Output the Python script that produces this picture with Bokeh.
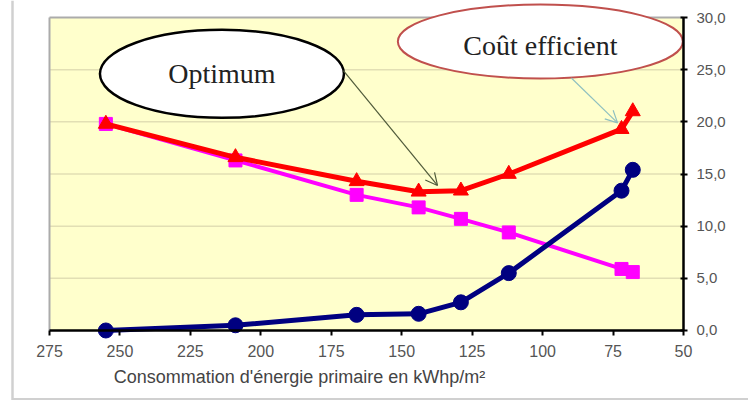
from bokeh.plotting import figure
from bokeh.models import Range1d, FixedTicker, CustomJSTickFormatter, Label, Arrow, OpenHead, BoxAnnotation
from bokeh.embed import file_html
from bokeh.resources import INLINE

# ---- data ----
energy = [255, 209, 166, 144, 129, 112, 72, 68]
cost_works = [0.0, 0.5, 1.5, 1.6, 2.7, 5.5, 13.4, 15.4]
cost_energy = [19.8, 16.3, 13.0, 11.8, 10.7, 9.4, 5.9, 5.6]
cost_total = [19.8, 16.6, 14.3, 13.3, 13.4, 15.0, 19.3, 21.0]

x_ticks = [275, 250, 225, 200, 175, 150, 125, 100, 75, 50]
y_ticks = [0, 5, 10, 15, 20, 25, 30]
grid_vals = [5, 10, 15, 20, 25]
x_label = "Consommation d'énergie primaire en kWhp/m²"
note_opt = "Optimum"
note_eff = "Coût efficient"

X_LEFT, X_RIGHT = 275, 50
Y_BOT, Y_TOP = 0, 30

p = figure(width=748, height=400, output_backend="svg", toolbar_location=None,
           x_range=Range1d(292.39, 26.93), y_range=Range1d(-6.71, 31.63),
           y_axis_location="right",
           min_border_left=0, min_border_right=0, min_border_top=0, min_border_bottom=0,
           outline_line_color=None, background_fill_color="white", border_fill_color="white")

# plot area background
p.add_layout(BoxAnnotation(left=X_RIGHT, right=X_LEFT, bottom=Y_BOT, top=Y_TOP,
                           fill_color="#FFFFCC", fill_alpha=1, line_color=None, level="image"))
p.xgrid.visible = False
p.ygrid.visible = False
p.segment(x0=[X_LEFT] * len(grid_vals), x1=[X_RIGHT] * len(grid_vals), y0=grid_vals, y1=grid_vals,
          line_color="#E2DFB4", line_width=1.5)
# gray frame lines
p.segment(x0=[X_LEFT, X_LEFT], x1=[X_RIGHT, X_LEFT], y0=[Y_TOP, Y_BOT], y1=[Y_TOP, Y_TOP],
          line_color="#ABABAB", line_width=2)
# outer picture border lines
p.segment(x0=[288.13, 288.13], x1=[288.13, 26.93], y0=[-6.71, -6.6], y1=[31.63, -6.6],
          line_color="#D0D0D0", line_width=2.5)

# series
p.line(energy, cost_energy, line_color="#FF00FF", line_width=4)
p.scatter(energy, cost_energy, marker="square", size=13, fill_color="#FF00FF", line_color="#FF00FF")
p.line(energy, cost_total, line_color="#FF0000", line_width=5)
p.scatter(energy, cost_total, marker="triangle", size=15, fill_color="#FF0000", line_color="#FF0000")
p.line(energy, cost_works, line_color="#000080", line_width=5)
p.scatter(energy, cost_works, marker="circle", size=15, fill_color="#000080", line_color="#000080")

# axes
xa = p.xaxis[0]
xa.fixed_location = 0
xa.bounds = (X_RIGHT, X_LEFT)
xa.ticker = FixedTicker(ticks=x_ticks)
xa.axis_line_color = "black"
xa.axis_line_width = 2.5
xa.major_tick_out = 5
xa.major_tick_in = 0
xa.major_tick_line_color = "black"
xa.major_tick_line_width = 2
xa.minor_tick_line_color = None
xa.major_label_standoff = 10
xa.major_label_text_font = "Liberation Sans"
xa.major_label_text_font_size = "16px"
xa.major_label_text_color = "#555555"

ya = p.yaxis[0]
ya.fixed_location = X_RIGHT
ya.bounds = (Y_BOT, Y_TOP)
ya.ticker = FixedTicker(ticks=y_ticks)
ya.formatter = CustomJSTickFormatter(code="return tick.toFixed(1).replace('.', ',');")
ya.axis_line_color = "black"
ya.axis_line_width = 2.5
ya.major_tick_out = 4
ya.major_tick_in = 3
ya.major_tick_line_color = "black"
ya.major_tick_line_width = 2
ya.minor_tick_line_color = None
ya.major_label_standoff = 9
ya.major_label_text_font = "Liberation Sans"
ya.major_label_text_font_size = "15px"
ya.major_label_text_color = "#555555"

p.add_layout(Label(x=186.3, y=-4.5, text=x_label, text_align="center", text_baseline="middle",
                   text_font="Liberation Sans", text_font_size="18px", text_color="#444444"))

# annotations
p.ellipse(x=[213.8], y=[24.6], width=[244], height=[88], width_units="screen", height_units="screen",
          fill_color="white", line_color="black", line_width=2.5)
p.ellipse(x=[100.8], y=[27.7], width=[285], height=[74], width_units="screen", height_units="screen",
          fill_color="white", line_color="#C0504D", line_width=2)
p.add_layout(Label(x=213.8, y=24.6, text=note_opt, text_align="center", text_baseline="middle",
                   text_font="Liberation Serif", text_font_size="28px", text_color="#222222"))
p.add_layout(Label(x=100.8, y=27.3, text=note_eff, text_align="center", text_baseline="middle",
                   text_font="Liberation Serif", text_font_size="28px", text_color="#222222"))
p.add_layout(Arrow(x_start=170.7, y_start=24.9, x_end=137.3, y_end=13.9,
                   line_color="#4F5A3A", line_width=1.2,
                   end=OpenHead(size=12, line_color="#4F5A3A", line_width=1.2)))
p.add_layout(Arrow(x_start=89.8, y_start=24.2, x_end=73.4, y_end=19.9,
                   line_color="#8FC0C0", line_width=1.2,
                   end=OpenHead(size=12, line_color="#8FC0C0", line_width=1.2)))

open("out.html", "w").write(file_html(p, INLINE))
